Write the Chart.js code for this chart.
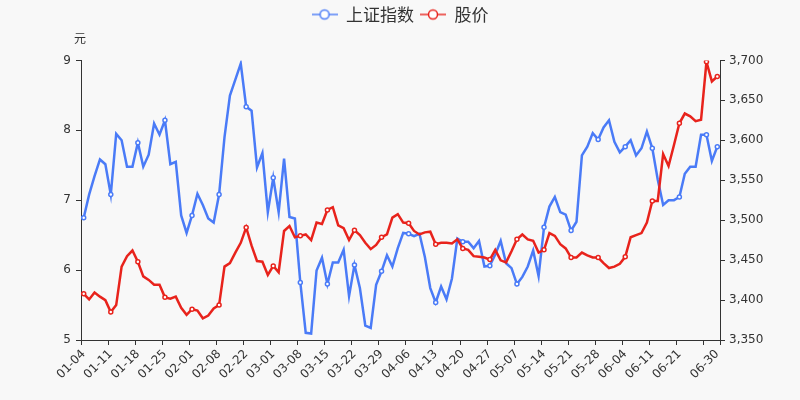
<!DOCTYPE html>
<html>
<head>
<meta charset="utf-8">
<script src="https://cdn.jsdelivr.net/npm/chart.js@4/dist/chart.umd.min.js"></script>
<style>
  html, body { margin: 0; padding: 0; background: #f8f8f8; }
  #wrap { width: 800px; height: 400px; }
</style>
</head>
<body>
<div id="wrap"><canvas id="stockChart" width="800" height="400"></canvas></div>
<script>
// trading days, 2021-01-04 .. 2021-06-30
const dates = [
  '01-04','01-05','01-06','01-07','01-08','01-11','01-12','01-13','01-14','01-15',
  '01-18','01-19','01-20','01-21','01-22','01-25','01-26','01-27','01-28','01-29',
  '02-01','02-02','02-03','02-04','02-05','02-08','02-09','02-10','02-18','02-19',
  '02-22','02-23','02-24','02-25','02-26','03-01','03-02','03-03','03-04','03-05',
  '03-08','03-09','03-10','03-11','03-12','03-15','03-16','03-17','03-18','03-19',
  '03-22','03-23','03-24','03-25','03-26','03-29','03-30','03-31','04-01','04-02',
  '04-06','04-07','04-08','04-09','04-12','04-13','04-14','04-15','04-16','04-19',
  '04-20','04-21','04-22','04-23','04-26','04-27','04-28','04-29','04-30','05-06',
  '05-07','05-10','05-11','05-12','05-13','05-14','05-17','05-18','05-19','05-20',
  '05-21','05-24','05-25','05-26','05-27','05-28','05-31','06-01','06-02','06-03',
  '06-04','06-07','06-08','06-09','06-10','06-11','06-15','06-16','06-17','06-18',
  '06-21','06-22','06-23','06-24','06-25','06-28','06-29','06-30'
];

// 上证指数 (right axis)
const shIndex = [
  3503, 3532, 3555, 3576, 3570, 3532, 3608, 3600, 3567, 3567,
  3597, 3567, 3582, 3621, 3607, 3625, 3570, 3573, 3506, 3484,
  3506, 3533, 3519, 3502, 3497, 3532, 3604, 3656, 3676, 3696,
  3642, 3637, 3566, 3584, 3510, 3553, 3510, 3577, 3504, 3502,
  3422, 3359, 3358, 3437, 3453, 3420, 3447, 3447, 3463, 3405,
  3444, 3415, 3368, 3365, 3419, 3436, 3456, 3442, 3465, 3484,
  3483, 3480, 3483, 3454, 3415, 3397, 3417, 3401, 3427, 3477,
  3473, 3473, 3465, 3474, 3442, 3443, 3457, 3474, 3446, 3440,
  3420, 3429, 3442, 3462, 3430, 3491, 3517, 3529, 3510, 3507,
  3487, 3498, 3581, 3592, 3609, 3601, 3616, 3625, 3598, 3585,
  3592, 3600, 3581, 3590, 3611, 3590, 3551, 3519, 3525, 3525,
  3529, 3558, 3567, 3567, 3607, 3607, 3574, 3592
];

// 股价 (left axis, 元)
const price = [
  5.66, 5.58, 5.68, 5.62, 5.57, 5.40, 5.50, 6.05, 6.20, 6.28,
  6.12, 5.91, 5.86, 5.79, 5.79, 5.61, 5.59, 5.62, 5.46, 5.36,
  5.44, 5.42, 5.31, 5.35, 5.45, 5.50, 6.05, 6.10, 6.25, 6.39,
  6.61, 6.35, 6.13, 6.12, 5.93, 6.06, 5.97, 6.56, 6.63, 6.47,
  6.49, 6.51, 6.43, 6.68, 6.66, 6.86, 6.90, 6.64, 6.60, 6.43,
  6.57, 6.50, 6.39, 6.30, 6.36, 6.47, 6.51, 6.75, 6.80, 6.68,
  6.67, 6.56, 6.51, 6.54, 6.55, 6.37, 6.39, 6.39, 6.38, 6.44,
  6.31, 6.29, 6.20, 6.19, 6.18, 6.15, 6.29, 6.14, 6.11, 6.27,
  6.44, 6.51, 6.44, 6.42, 6.25, 6.29, 6.53, 6.49, 6.37, 6.31,
  6.18, 6.18, 6.25, 6.21, 6.18, 6.18, 6.10, 6.03, 6.05, 6.09,
  6.19, 6.47, 6.50, 6.53, 6.68, 6.99, 6.99, 7.66, 7.49, 7.79,
  8.10, 8.24, 8.20, 8.13, 8.15, 8.98, 8.70, 8.77
];

const BLUE = '#4a7bf7';
const RED = '#e8231c';
const AXIS = '#333';
const lastIdx = dates.length - 1;

// legend icon: short line with a hollow circle
function makeIcon(color) {
  const c = document.createElement('canvas');
  c.width = 26;
  c.height = 14;
  const g = c.getContext('2d');
  g.globalAlpha = 0.7;
  g.strokeStyle = color;
  g.lineWidth = 2;
  g.beginPath();
  g.moveTo(0, 7);
  g.lineTo(26, 7);
  g.stroke();
  g.globalAlpha = 1;
  g.fillStyle = '#fff';
  g.lineWidth = 1.5;
  g.beginPath();
  g.arc(13, 7, 4.5, 0, Math.PI * 2);
  g.fill();
  g.stroke();
  return c;
}
const icons = [makeIcon(BLUE), makeIcon(RED)];

// draws the "元" unit above the left axis
const unitLabel = {
  id: 'unitLabel',
  afterDraw(chart) {
    const { ctx, chartArea } = chart;
    ctx.save();
    ctx.font = '12px "Noto Sans CJK SC"';
    ctx.fillStyle = AXIS;
    ctx.textAlign = 'center';
    ctx.textBaseline = 'middle';
    ctx.fillText('元', chartArea.left - 1, chartArea.top - 22);
    ctx.restore();
  }
};

const showMarker = (ctx) => (ctx.dataIndex % 5 === 0 || ctx.dataIndex === lastIdx) ? 2 : 0;

const ctx = document.getElementById('stockChart').getContext('2d');
new Chart(ctx, {
  type: 'line',
  data: {
    labels: dates,
    datasets: [
      {
        label: '上证指数',
        data: shIndex,
        yAxisID: 'yRight',
        borderColor: BLUE,
        backgroundColor: '#fff',
        borderWidth: 2.5,
        pointRadius: showMarker,
        pointBorderWidth: 1.5,
        pointBorderColor: BLUE,
        pointBackgroundColor: '#fff',
        tension: 0,
        order: 2
      },
      {
        label: '股价',
        data: price,
        yAxisID: 'yLeft',
        borderColor: RED,
        backgroundColor: '#fff',
        borderWidth: 2.5,
        pointRadius: showMarker,
        pointBorderWidth: 1.5,
        pointBorderColor: RED,
        pointBackgroundColor: '#fff',
        tension: 0,
        order: 1
      }
    ]
  },
  options: {
    responsive: false,
    animation: false,
    layout: { padding: { left: 0, right: 0, top: 0, bottom: 0 } },
    plugins: {
      legend: {
        position: 'top',
        labels: {
          usePointStyle: true,
          pointStyleWidth: 26,
          padding: 6,
          color: AXIS,
          font: { family: '"Noto Sans CJK SC"', size: 17 },
          sort: (a, b) => a.datasetIndex - b.datasetIndex,
          generateLabels(chart) {
            const items = Chart.defaults.plugins.legend.labels.generateLabels(chart);
            items.forEach(it => { it.pointStyle = icons[it.datasetIndex]; });
            return items;
          }
        }
      },
      // empty spacer below the legend
      title: {
        display: true,
        text: '',
        weight: 500,
        font: { size: 12 },
        padding: { top: 0, bottom: 13 }
      },
      tooltip: { enabled: false }
    },
    scales: {
      x: {
        type: 'category',
        offset: true,
        grid: {
          offset: true,
          drawOnChartArea: false,
          tickLength: 5,
          tickColor: (c) => (c.type !== 'tick' || c.index % 5 === 0) ? AXIS : 'rgba(0,0,0,0)'
        },
        border: { color: AXIS, width: 1 },
        ticks: {
          autoSkip: false,
          minRotation: 45,
          maxRotation: 45,
          padding: 2,
          color: AXIS,
          font: { family: '"DejaVu Sans"', size: 12 },
          callback: function(value, i) {
            if ((i % 5 === 0 && i <= 110) || i === lastIdx) return dates[i];
            return '';
          }
        },
        afterFit(scale) { scale.height = 60; }
      },
      yLeft: {
        type: 'linear',
        position: 'left',
        min: 5,
        max: 9,
        ticks: {
          stepSize: 1,
          padding: 5,
          color: AXIS,
          font: { family: '"DejaVu Sans"', size: 12 }
        },
        grid: { drawOnChartArea: false, tickLength: 5, tickColor: AXIS },
        border: { color: AXIS, width: 1 },
        afterFit(scale) { scale.width = 81; }
      },
      yRight: {
        type: 'linear',
        position: 'right',
        min: 3350,
        max: 3700,
        ticks: {
          stepSize: 50,
          padding: 4,
          color: AXIS,
          font: { family: '"DejaVu Sans"', size: 12 },
          callback: (v) => v.toLocaleString('en-US')
        },
        grid: { drawOnChartArea: false, tickLength: 5, tickColor: AXIS },
        border: { color: AXIS, width: 1 },
        afterFit(scale) { scale.width = 80; }
      }
    }
  },
  plugins: [unitLabel]
});
</script>
</body>
</html>
